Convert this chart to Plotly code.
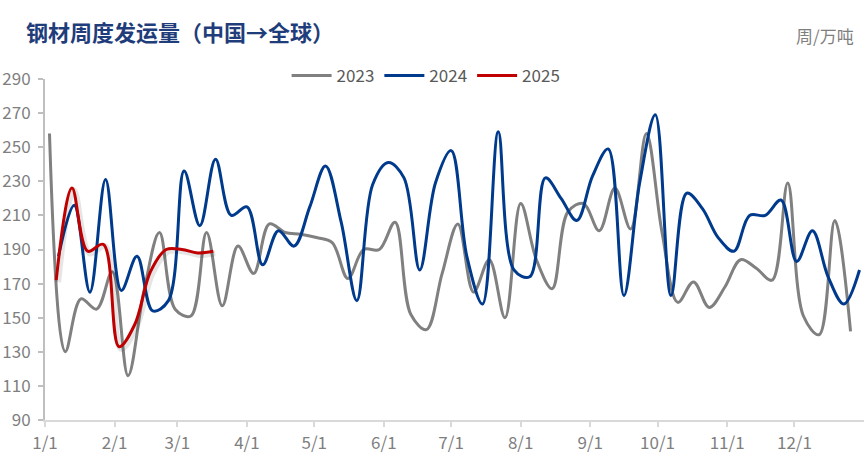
import pandas as pd
import plotly.graph_objects as go

# ---- data (weekly, mapped onto a common calendar year) ----
v2023 = [258, 130, 161, 155, 177, 116, 165, 200, 155, 151,
         200, 157, 192, 176, 205, 200, 199, 197, 194, 173,
         190, 190, 206, 152, 143, 176, 205, 165, 184, 150,
         217, 184, 167, 212, 217, 201, 226, 202, 258, 200,
         159, 171, 156, 168, 184, 179, 172, 229, 151, 140,
         207, 142]
v2024 = [186, 216, 165, 231, 166, 186, 154, 160, 236, 204,
         243, 210, 215, 181, 201, 192, 215, 239, 206, 160,
         228, 241, 232, 178, 229, 248, 186, 158, 259, 178,
         174, 232, 220, 207, 233, 249, 163, 229, 269, 163,
         223, 214, 197, 189, 210, 210, 219, 183, 201, 174,
         158, 178]
v2025 = [172, 226, 189, 193, 133, 146, 177, 190, 190, 188, 189]

start2023 = "2023-01-03"
start2024 = "2023-01-07"
start2025 = "2023-01-06"

tick_dates = ["2023-01-01", "2023-02-01", "2023-03-01", "2023-04-01",
              "2023-05-01", "2023-06-01", "2023-07-01", "2023-08-01",
              "2023-09-01", "2023-10-01", "2023-11-01", "2023-12-01"]
tick_labels = ["1/1", "2/1", "3/1", "4/1", "5/1", "6/1",
               "7/1", "8/1", "9/1", "10/1", "11/1", "12/1"]

y_ticks = [90, 110, 130, 150, 170, 190, 210, 230, 250, 270, 290]

title_text = "钢材周度发运量（中国→全球）"
unit_text = "周/万吨"


def weekly(start, n):
    return pd.date_range(start, periods=n, freq="7D")


fig = go.Figure()
fig.add_trace(go.Scatter(x=weekly(start2023, len(v2023)), y=v2023, name="2023",
                         mode="lines", line=dict(color="#808080", width=3,
                                                 shape="spline", smoothing=1)))
fig.add_trace(go.Scatter(x=weekly(start2024, len(v2024)), y=v2024, name="2024",
                         mode="lines", line=dict(color="#003A8C", width=3,
                                                 shape="spline", smoothing=1)))
# soft shadow under the 2025 line
fig.add_trace(go.Scatter(x=weekly(start2025, len(v2025)) + pd.Timedelta(hours=20),
                         y=[v - 1.2 for v in v2025], showlegend=False, hoverinfo="skip",
                         mode="lines", line=dict(color="rgba(0,0,0,0.10)", width=6,
                                                 shape="spline", smoothing=1)))
fig.add_trace(go.Scatter(x=weekly(start2025, len(v2025)), y=v2025, name="2025",
                         mode="lines", line=dict(color="#C00000", width=3,
                                                 shape="spline", smoothing=1)))

axis_font = dict(family="Noto Sans CJK SC", size=17, color="#7F7F7F")

fig.update_layout(
    width=865, height=475,
    margin=dict(l=45, r=1, t=79, b=55, autoexpand=False),
    paper_bgcolor="white", plot_bgcolor="white",
    font=dict(family="Noto Sans CJK SC", color="#595959"),
    title=dict(text=title_text, x=26 / 865, xanchor="left", xref="container",
               y=1 - 33 / 475, yanchor="middle", yref="container",
               font=dict(family="Noto Sans CJK SC", size=22, color="#1F3D7A",
                         weight="bold")),
    showlegend=True,
    legend=dict(orientation="h", x=0.295, xanchor="left", y=1 - 76 / 475,
                yref="container", yanchor="middle",
                font=dict(family="Noto Sans CJK SC", size=17, color="#595959"),
                bgcolor="rgba(0,0,0,0)", itemwidth=40, tracegroupgap=0),
    xaxis=dict(type="date", range=["2023-01-01", "2024-01-01"], automargin=False,
               tickvals=tick_dates, ticktext=tick_labels, tickfont=axis_font,
               showgrid=False, zeroline=False, showline=True,
               linecolor="#D9D9D9", linewidth=2, ticks="outside", ticklen=5,
               tickcolor="#D9D9D9", tickwidth=1.5, ticklabelstandoff=2),
    yaxis=dict(range=[90, 290], tickvals=y_ticks, tickfont=axis_font, automargin=False,
               showgrid=False, zeroline=False, showline=True,
               linecolor="#BFBFBF", linewidth=2, ticks="outside", ticklen=5,
               tickcolor="#BFBFBF", tickwidth=1.5, ticklabelstandoff=4),
    annotations=[dict(text=unit_text, xref="paper", yref="paper",
                      x=(856 - 45) / 819, xanchor="right",
                      y=(420 - 36) / 341, yanchor="middle", showarrow=False,
                      font=dict(family="Noto Sans CJK SC", size=17, color="#7F7F7F"))],
)

fig.write_html("out.html", config={"displayModeBar": False},
               post_script="document.body.style.margin='0';")
